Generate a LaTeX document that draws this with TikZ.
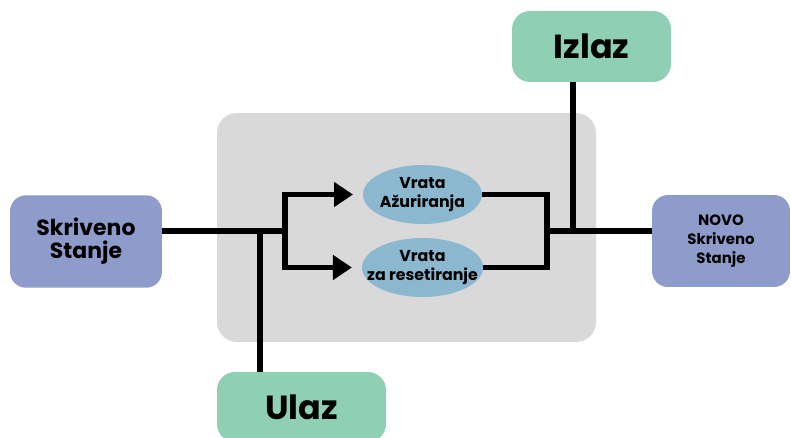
\documentclass[tikz,border=0pt]{standalone}
\usepackage{fontspec}
\setmainfont{Poppins}
\usetikzlibrary{arrows.meta,shapes.geometric}
\definecolor{stateblue}{HTML}{8E9CCB}
\definecolor{iogreen}{HTML}{8FCFB3}
\definecolor{gateblue}{HTML}{8CB8CF}
\definecolor{cellgray}{HTML}{D9D9D9}
\tikzset{
	statebox/.style={fill=stateblue,rounded corners=0.32cm,minimum width=3.04cm,minimum height=1.85cm,align=center,font=\bfseries,inner sep=0pt},
	iobox/.style={fill=iogreen,rounded corners=0.36cm,inner sep=0pt,font=\fontsize{19}{22}\selectfont\bfseries},
	gate/.style={ellipse,fill=gateblue,minimum width=2.38cm,minimum height=1.18cm,inner xsep=-0.25cm,inner ysep=0pt,align=center,font=\fontsize{9}{10.5}\selectfont\bfseries},
	wire/.style={line width=3.3pt,line join=miter}
}
\begin{document}
\begin{tikzpicture}[x=0.02cm,y=-0.02cm]
	\useasboundingbox (0,0) rectangle (791,437);
	\fill[cellgray,rounded corners=0.4cm] (217,113) rectangle (596,342);
	% boxes
	\node[statebox,font=\fontsize{12.5}{13}\selectfont\bfseries] (skriv) at (86,241.5) {Skriveno\\Stanje};
	\node[statebox,minimum width=2.76cm,minimum height=1.84cm,font=\fontsize{8.5}{11}\selectfont\bfseries] (novo) at (721,241) {NOVO\\Skriveno\\Stanje};
	\node[iobox,minimum width=3.18cm,minimum height=1.42cm] (izlaz) at (591.5,46.5) {Izlaz};
	\node[iobox,minimum width=3.38cm,minimum height=1.4cm] (ulaz) at (301.5,407) {Ulaz};
	% gates
	\node[gate] (azur) at (422.5,194.5) {Vrata\\Ažuriranja};
	\node[gate] (reset) at (422.5,267.5) {Vrata\\za resetiranje};
	% joins
	\coordinate (split) at (285,231);
	\coordinate (inJ) at (260,231);
	\coordinate (merge) at (547,231);
	\coordinate (outJ) at (573,231);
	\draw[wire] (skriv.east |- split) -- (split);
	\draw[wire,-{Triangle[length=0.38cm,width=0.48cm]},shorten >=5.5] (split) |- (azur.west);
	\draw[wire,-{Triangle[length=0.38cm,width=0.48cm]},shorten >=5.5] (split) |- (reset.west);
	\draw[wire] (inJ) -- (inJ |- ulaz.north);
	\draw[wire] (azur.east) -| (merge);
	\draw[wire] (reset.east) -| (merge);
	\draw[wire] (merge) -- (novo.west |- merge);
	\draw[wire] (izlaz.south -| outJ) -- (outJ);
\end{tikzpicture}
\end{document}
